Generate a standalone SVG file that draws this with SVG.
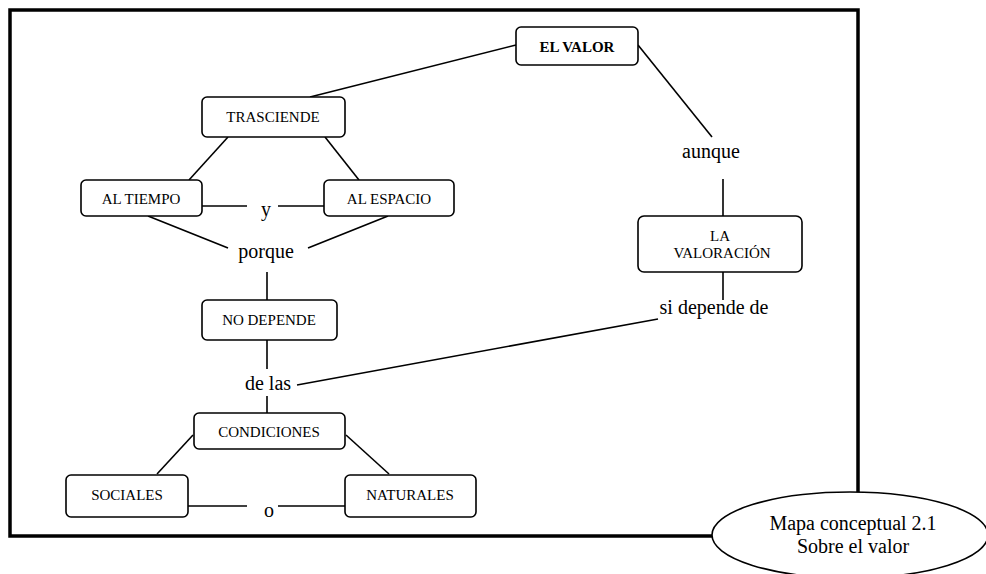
<svg xmlns="http://www.w3.org/2000/svg" width="986" height="574" viewBox="0 0 986 574">
<style>
.node rect{fill:#fff;stroke:#000;stroke-width:1.6}
.nt{font-family:"Liberation Serif","Times New Roman",serif;font-size:15px;text-anchor:middle;fill:#000}
.lt{font-family:"Liberation Serif","Times New Roman",serif;font-size:20px;text-anchor:middle;fill:#000}
#connectors line{stroke:#000;stroke-width:1.6}
</style>
<rect width="986" height="574" fill="#fff"/>
<rect id="frame" x="10" y="10" width="848" height="526" fill="none" stroke="#000" stroke-width="3.5"/>
<g id="connectors">
<line x1="310" y1="97" x2="516" y2="45"/>
<line x1="638" y1="45" x2="712" y2="137"/>
<line x1="723" y1="179" x2="723" y2="216"/>
<line x1="723" y1="272" x2="723" y2="300"/>
<line x1="228" y1="137" x2="189" y2="180"/>
<line x1="325" y1="137" x2="359" y2="180"/>
<line x1="202" y1="206" x2="247" y2="206"/>
<line x1="278" y1="206" x2="324" y2="206"/>
<line x1="148" y1="216" x2="228" y2="248"/>
<line x1="388" y1="216" x2="308" y2="248"/>
<line x1="267" y1="272" x2="267" y2="300"/>
<line x1="267" y1="340" x2="267" y2="369"/>
<line x1="267" y1="396" x2="267" y2="413"/>
<line x1="297" y1="385" x2="658" y2="319"/>
<line x1="193" y1="435" x2="157" y2="474"/>
<line x1="346" y1="435" x2="389" y2="474"/>
<line x1="188" y1="506" x2="247" y2="506"/>
<line x1="278" y1="506" x2="345" y2="506"/>
</g>
<g id="n-elvalor" class="node"><rect x="516" y="27" width="122" height="38" rx="5"/><text class="nt" x="577" y="52" font-weight="bold">EL VALOR</text></g>
<g id="n-trasciende" class="node"><rect x="202" y="97" width="143" height="40" rx="5"/><text class="nt" x="273" y="122">TRASCIENDE</text></g>
<g id="n-altiempo" class="node"><rect x="81" y="180" width="121" height="36" rx="5"/><text class="nt" x="141" y="204">AL TIEMPO</text></g>
<g id="n-alespacio" class="node"><rect x="324" y="180" width="130" height="36" rx="5"/><text class="nt" x="389" y="204">AL ESPACIO</text></g>
<g id="n-nodepende" class="node"><rect x="202" y="300" width="135" height="40" rx="5"/><text class="nt" x="269" y="325">NO DEPENDE</text></g>
<g id="n-condiciones" class="node"><rect x="194" y="413" width="151" height="36" rx="5"/><text class="nt" x="269" y="437">CONDICIONES</text></g>
<g id="n-sociales" class="node"><rect x="66" y="475" width="122" height="42" rx="5"/><text class="nt" x="127" y="500">SOCIALES</text></g>
<g id="n-naturales" class="node"><rect x="345" y="475" width="131" height="42" rx="5"/><text class="nt" x="410" y="500">NATURALES</text></g>
<g id="n-valoracion" class="node"><rect x="638" y="216" width="164" height="56" rx="6"/><text class="nt" x="720" y="241">LA</text><text class="nt" x="722" y="258">VALORACIÓN</text></g>
<g id="labels">
<text class="lt" x="711" y="158">aunque</text>
<text class="lt" x="266" y="216">y</text>
<text class="lt" x="266" y="258">porque</text>
<text class="lt" x="268" y="390">de las</text>
<text class="lt" x="714" y="314">si depende de</text>
<text class="lt" x="269" y="517" font-size="18">o</text>
</g>
<g id="caption">
<ellipse cx="850" cy="535" rx="138" ry="43" fill="#fff" stroke="#000" stroke-width="1.6"/>
<text class="lt" x="853" y="530">Mapa conceptual 2.1</text>
<text class="lt" x="853" y="553">Sobre el valor</text>
</g>
</svg>
